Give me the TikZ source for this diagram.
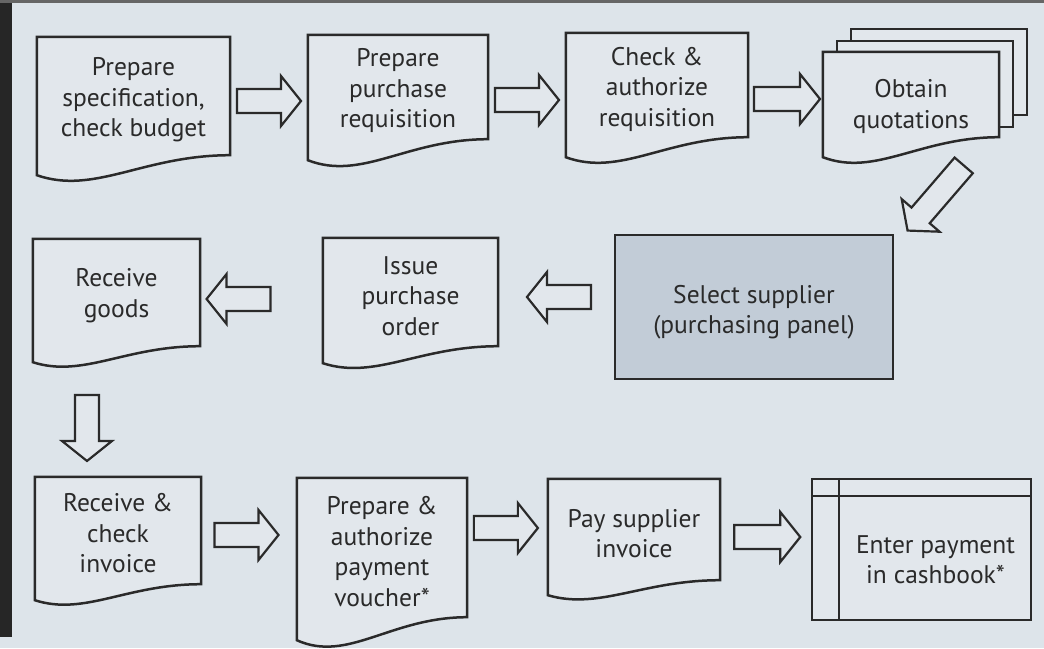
\documentclass[tikz,border=0pt]{standalone}
\usepackage{fontspec}
\setmainfont{PT Sans}
\usepackage{xcolor}
\usetikzlibrary{shapes,arrows,positioning,calc}

\definecolor{bgcol}{HTML}{DDE4EA}
\definecolor{boxcol}{HTML}{E2E7EC}
\definecolor{selcol}{HTML}{C2CCD7}
\definecolor{inkcol}{HTML}{2A2A2A}

\pgfdeclarelayer{canvas}
\pgfdeclarelayer{paper}
\pgfsetlayers{canvas,paper,main}

% outline of a document symbol round a node (name, drop of left corner)
\newcommand{\docoutline}[2]{%
  \begin{pgfonlayer}{paper}
    \draw[docline] (#1.north west) -- (#1.north east) -- (#1.south east)
      .. controls ($(#1.south east)!0.45!(#1.south west)$) and ($(#1.south west)!0.3!(#1.south east)+(0,2*#2)$) .. ($(#1.south west)+(0,#2)$) -- cycle;
  \end{pgfonlayer}}

\tikzset{pics/blockarrow/.style={code={
  \draw[arrowline] ({-#1/2},-12) -- ({#1/2-20},-12) -- ({#1/2-20},-25) -- ({#1/2},0)
    -- ({#1/2-20},25) -- ({#1/2-20},12) -- ({-#1/2},12) -- cycle;
}}}

\begin{document}
\begin{tikzpicture}[x=1pt, y=-1pt,
  doctext/.style={font=\fontsize{25.5}{30.5}\selectfont, text=inkcol, align=center, inner sep=0pt},
  docbox/.style={inner sep=0pt},
  docline/.style={draw=inkcol, fill=boxcol, line width=2.5pt},
  selbox/.style={draw=inkcol, fill=selcol, line width=2.5pt},
  bookbox/.style={draw=inkcol, fill=boxcol, line width=2.5pt},
  arrowline/.style={draw=inkcol, fill=boxcol, line width=2.2pt, line join=miter},
  flow/.style={pos=0.5, sloped, allow upside down}]
\useasboundingbox (0,0) rectangle (1044,648);

% screen background
\begin{pgfonlayer}{canvas}
\fill[bgcol] (0,0) rectangle (1044,648);
\fill[black!85] (0,0) rectangle (12,637);
\fill[black!60] (0,0) rectangle (1044,3);
\end{pgfonlayer}

% first row
\node[docbox, minimum width=193, minimum height=118] (spec) at (133.5,96) {};
\docoutline{spec}{20}
\node[doctext] (spectxt) at ($(spec)+(0,4)$) {Prepare\\specification,\\check budget};
\node[docbox, minimum width=180, minimum height=104] (preq) at (398,87) {};
\docoutline{preq}{21}
\node[doctext] (preqtxt) at ($(preq)+(0,4)$) {Prepare\\purchase\\requisition};
\node[docbox, minimum width=182, minimum height=104] (auth) at (657,85) {};
\docoutline{auth}{20}
\node[doctext] (authtxt) at ($(auth)+(0,4)$) {Check \&\\authorize\\requisition};

% quotations (stack of documents)
\node[docbox, minimum width=176, minimum height=85] (quote) at (911,94.5) {};
\begin{pgfonlayer}{paper}
\draw[docline] ($(quote.north west)+(28,-23)$) rectangle ($(quote.south east)+(28,-22)$);
\draw[docline] ($(quote.north west)+(14,-11)$) rectangle ($(quote.south east)+(14,-10)$);
\end{pgfonlayer}
\docoutline{quote}{20}
\node[doctext] (quotetxt) at ($(quote)+(0,12)$) {Obtain\\quotations};

% second row
\node[selbox, minimum width=278, minimum height=144] (select) at (754,307) {};
\node[doctext] (selecttxt) at ($(select)+(0,5)$) {Select supplier\\(purchasing panel)};
\node[docbox, minimum width=175, minimum height=108] (iss) at (410.5,292) {};
\docoutline{iss}{17}
\node[doctext] (isstxt) at ($(iss)+(0,4)$) {Issue\\purchase\\order};
\node[docbox, minimum width=167, minimum height=107] (recv) at (116.5,292.5) {};
\docoutline{recv}{16}
\node[doctext] (recvtxt) at ($(recv)+(0,3)$) {Receive\\goods};

% third row
\node[docbox, minimum width=166, minimum height=107] (inv) at (118,530.5) {};
\docoutline{inv}{16}
\node[doctext] (invtxt) at ($(inv)+(0,3)$) {Receive \&\\check\\invoice};
\node[docbox, minimum width=170, minimum height=139] (vouch) at (382,547.5) {};
\docoutline{vouch}{23}
\node[doctext] (vouchtxt) at ($(vouch)+(0,4)$) {Prepare \&\\authorize\\payment\\voucher*};
\node[docbox, minimum width=172, minimum height=101] (pay) at (634,529.5) {};
\docoutline{pay}{15}
\node[doctext] (paytxt) at ($(pay)+(0,4)$) {Pay supplier\\invoice};

% cashbook
\node[bookbox, minimum width=219, minimum height=141] (cash) at (921.5,549.5) {};
\draw[bookbox] ($(cash.north west)+(0,18)$) -- ($(cash.north east)+(0,18)$);
\draw[bookbox] ($(cash.north west)+(28,0)$) -- ($(cash.south west)+(28,0)$);
\node[doctext] (cashtxt) at ($(cash)+(14,10)$) {Enter payment\\in cashbook*};

% block arrows
\path (spec.east |- 0,101) -- (preq.west |- 0,101) pic[flow] {blockarrow=64};
\path (preq.east |- 0,100) -- (auth.west |- 0,100) pic[flow] {blockarrow=64};
\path (auth.east |- 0,99) -- (quote.west |- 0,99) pic[flow, pos=0.52] {blockarrow=66};
\path ($(quote.south)+(52,29)$) -- ($(select.north east)+(14,-4)$) pic[flow] {blockarrow=86};
\path (select.west |- 0,297) -- (iss.east |- 0,297) pic[flow, pos=0.474] {blockarrow=64};
\path (iss.west |- 0,299) -- (recv.east |- 0,299) pic[flow, pos=0.687] {blockarrow=64};
\path ($(recv.south)+(-29.5,0)$) -- ($(inv.north)+(-31,0)$) pic[flow, pos=0.626] {blockarrow=66};
\path (inv.east |- 0,535) -- (vouch.west |- 0,535) pic[flow, pos=0.474] {blockarrow=64};
\path (vouch.east |- 0,528) -- (pay.west |- 0,528) pic[flow, pos=0.48] {blockarrow=64};
\path (pay.east |- 0,537) -- (cash.west |- 0,537) pic[flow, pos=0.52] {blockarrow=66};

\end{tikzpicture}
\end{document}
